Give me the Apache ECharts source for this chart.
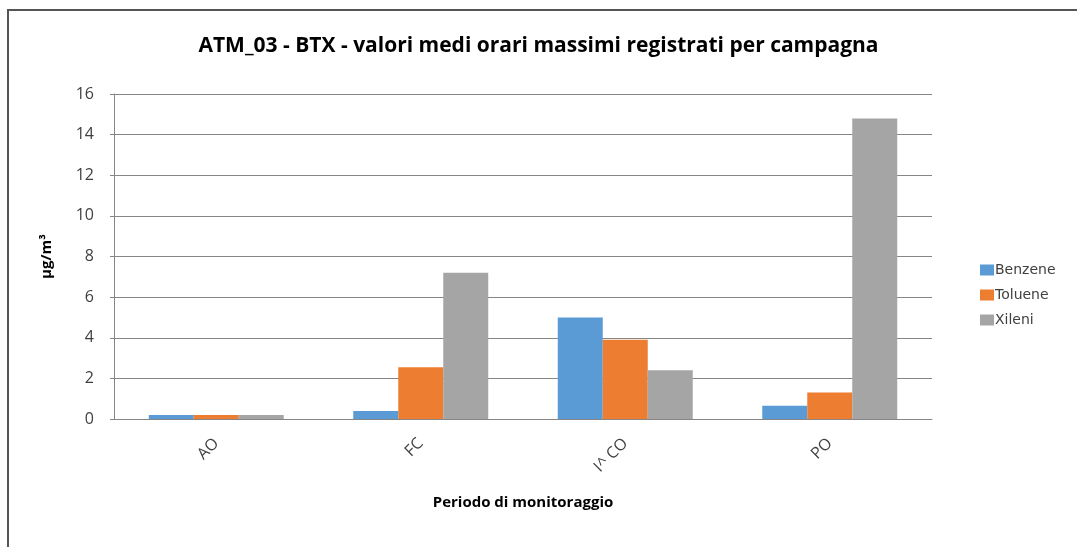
<!DOCTYPE html>
<html>
<head>
<meta charset="utf-8">
<script src="https://cdn.jsdelivr.net/npm/echarts@6/dist/echarts.min.js"></script>
<style>
  html, body { margin: 0; padding: 0; background: #fff; }
  .frame {
    position: absolute;
    left: 7px;
    top: 9px;
    width: 1070px;
    height: 538px;
    border-left: 2px solid #555;
    border-top: 2px solid #555;
  }
  #chart { position: absolute; left: 0; top: 0; width: 1077px; height: 547px; }
</style>
</head>
<body>
<div class="frame"></div>
<div id="chart"></div>
<script>
const categories = ['AO', 'FC', 'I^ CO', 'PO']
const benzene = [0.2, 0.4, 5.0, 0.65]
const toluene = [0.2, 2.55, 3.9, 1.3]
const xileni = [0.2, 7.2, 2.4, 14.8]
const colors = ['#5B9BD5', '#ED7D31', '#A5A5A5']

const chart = echarts.init(document.getElementById('chart'))
const textColor = '#404040'
const font = 'Open Sans'

chart.setOption({
  color: colors,
  animation: false,
  title: {
    text: 'ATM_03 - BTX - valori medi orari massimi registrati per campagna',
    left: 'center',
    top: 31,
    textStyle: {
      fontFamily: font,
      fontSize: 21,
      fontWeight: 'bold',
      color: '#000'
    }
  },
  grid: {
    left: 114,
    right: 145,
    top: 94,
    bottom: 128
  },
  legend: {
    orient: 'vertical',
    left: 975,
    top: 258,
    itemWidth: 14,
    itemHeight: 11,
    itemGap: 11,
    icon: 'rect',
    textStyle: {
      fontFamily: 'DejaVu Sans',
      fontSize: 14,
      color: textColor,
      padding: [0, 0, 0, -4]
    }
  },
  xAxis: {
    type: 'category',
    data: categories,
    name: 'Periodo di monitoraggio',
    nameLocation: 'middle',
    nameGap: 76,
    nameTextStyle: {
      fontFamily: font,
      fontSize: 15,
      fontWeight: 'bold',
      color: '#000'
    },
    axisLine: { lineStyle: { color: '#868686' } },
    axisTick: { show: false },
    axisLabel: {
      rotate: 45,
      margin: 22,
      fontFamily: font,
      fontSize: 16,
      color: textColor
    }
  },
  yAxis: {
    type: 'value',
    min: 0,
    max: 16,
    interval: 2,
    name: 'μg/m³',
    nameLocation: 'middle',
    nameGap: 60,
    nameRotate: 90,
    nameTextStyle: {
      fontFamily: font,
      fontSize: 15,
      fontWeight: 'bold',
      color: '#000'
    },
    axisLine: { show: true, lineStyle: { color: '#868686' } },
    axisTick: { show: true, length: 4, lineStyle: { color: '#868686' } },
    axisLabel: {
      margin: 20,
      fontFamily: font,
      fontSize: 16,
      color: textColor
    },
    splitLine: { lineStyle: { color: '#868686', width: 1 } }
  },
  series: [
    { name: 'Benzene', type: 'bar', data: benzene, barGap: '0%', barCategoryGap: '34%' },
    { name: 'Toluene', type: 'bar', data: toluene, barGap: '0%', barCategoryGap: '34%' },
    { name: 'Xileni', type: 'bar', data: xileni, barGap: '0%', barCategoryGap: '34%' }
  ]
})
</script>
</body>
</html>
